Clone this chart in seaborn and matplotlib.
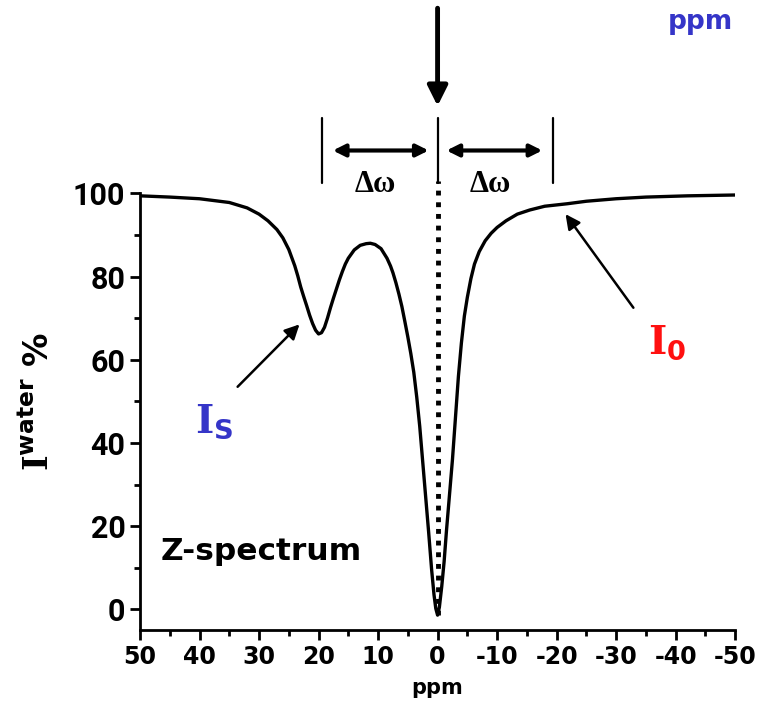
import numpy as np
import pandas as pd
import matplotlib
matplotlib.use("Agg")
import matplotlib.pyplot as plt
import seaborn as sns

# Z-spectrum values (ppm vs water signal %)
ppm = [50, 45, 40, 35, 32, 30, 28.5, 27, 26, 25, 24, 23.5, 23, 22.5, 22, 21.5,
       21, 20.5, 20, 19.5, 19, 18.5, 18, 17.5, 17, 16.5, 16, 15.5, 15, 14, 13,
       12, 11.3, 10.5, 9.5, 8.5, 7.9, 7.5, 7, 6.5, 6, 5.5, 5, 4.5, 4, 3.5, 3,
       2.5, 2, 1.5, 1, 0.6, 0.3, 0, -0.3, -0.7, -1.1, -1.5, -2, -2.5, -3,
       -3.5, -4, -4.5, -5, -5.6, -6.2, -7, -8, -9, -10, -11.5, -13.4, -15.5,
       -18, -21.8, -25, -30, -35, -42, -50]
signal = [99.4, 99.1, 98.7, 97.8, 96.5, 95.0, 93.4, 91.3, 89.3, 86.5, 82.6,
          80.2, 77.5, 75.2, 73.0, 70.7, 68.7, 67.1, 66.2, 66.5, 67.8, 70,
          72.5, 74.8, 77, 79.2, 81.2, 83, 84.4, 86.4, 87.5, 87.9, 88, 87.7,
          86.7, 84.4, 82.5, 80.9, 78.5, 75.8, 72.8, 69.2, 65.5, 61.5, 57, 51,
          44, 35.5, 27, 18.5, 9.5, 3.5, 0.2, -1.4, 0.5, 5.5, 11.5, 19, 27.5,
          36, 46, 56, 64, 70.5, 75, 79.5, 83, 86, 88.6, 90.4, 91.8, 93.4,
          95.0, 96, 96.9, 97.5, 98.1, 98.7, 99.1, 99.4, 99.6]
x_ticks = [50, 40, 30, 20, 10, 0, -10, -20, -30, -40, -50]
y_ticks = [0, 20, 40, 60, 80, 100]
delta_w = 19.4  # offset of the saturation bars, ppm

df = pd.DataFrame({"ppm": ppm, "signal": signal})

sns.set_style("ticks")
plt.rcParams['font.family'] = ['DejaVu Sans']
plt.rcParams['text.color'] = 'black'
plt.rcParams['axes.labelcolor'] = 'black'
plt.rcParams['xtick.color'] = 'black'
plt.rcParams['ytick.color'] = 'black'
plt.rcParams['mathtext.fontset'] = 'custom'
plt.rcParams['mathtext.bf'] = 'DejaVu Serif:bold'
plt.rcParams['mathtext.sf'] = 'DejaVu Sans:bold'
plt.rcParams['mathtext.rm'] = 'DejaVu Sans:bold'

fig = plt.figure(figsize=(7.63, 7.08), dpi=100)
ax = fig.add_axes([0.1835, 0.110, 0.78, 0.6463])

sns.lineplot(data=df, x="ppm", y="signal", sort=False, estimator=None,
             color="black", lw=2.4, ax=ax)

# dotted line at the water resonance
ax.plot([0, 0], [min(signal), 103], color="black", lw=3.5,
        linestyle=(0, (1, 1.4)), solid_capstyle='butt', clip_on=False)

ax.set_xlim(50, -50)
ax.set_ylim(-5, 105)
ax.set_xticks(x_ticks)
ax.set_xticks(np.arange(-45, 50, 10), minor=True)
ax.set_yticks(y_ticks)
ax.set_yticks([10, 30, 50, 70, 90], minor=True)
ax.set_xticklabels([str(t) for t in x_ticks], fontsize=17, fontweight='bold')
ax.set_yticklabels([str(t) for t in y_ticks], fontsize=22, fontweight='bold',
                   family='Roboto')
ax.tick_params(axis='both', which='major', length=7, width=2, direction='out')
ax.tick_params(axis='both', which='minor', length=4, width=2, direction='out')
ax.tick_params(axis='x', pad=4)
for s in ['top', 'right']:
    ax.spines[s].set_visible(False)
for s in ['left', 'bottom']:
    ax.spines[s].set_linewidth(2)
    ax.spines[s].set_color('black')
ax.spines['left'].set_bounds(-5, 100)

ax.set_xlabel("ppm", fontsize=15, fontweight='bold', labelpad=6)
ax.set_ylabel(r"$\mathbf{I}^{\mathsf{water}}$ %", fontsize=24,
              fontweight='bold', labelpad=12)

# saturation markers and delta omega
for xb in [delta_w, 0, -delta_w]:
    ax.plot([xb, xb], [102.6, 118], color="black", lw=1.6, clip_on=False)
for x0, x1 in [(delta_w - 1.8, 1.5), (-1.5, -delta_w + 1.8)]:
    ax.annotate("", xy=(x1, 110.3), xytext=(x0, 110.3),
                arrowprops=dict(arrowstyle='<|-|>', lw=3, color='black',
                                mutation_scale=18, shrinkA=0, shrinkB=0),
                annotation_clip=False)
for xc in [10.4, -8.9]:
    ax.text(xc, 102.2, "Δω", ha='center', va='center', fontsize=22,
            family='Liberation Serif', fontweight='bold', clip_on=False)

# irradiation arrow
ax.annotate("", xy=(0, 121), xytext=(0, 144.5),
            arrowprops=dict(arrowstyle='-|>', lw=3.5, color='black',
                            mutation_scale=30, shrinkA=0, shrinkB=0),
            annotation_clip=False)

ax.text(0.942, 1.329, "ppm", transform=ax.transAxes, color='#3535c8',
        fontsize=19, fontweight='bold', ha='center', va='center')

# labels with arrows
ax.annotate("", xy=(23.2, 68.5), xytext=(33.6, 53.5),
            arrowprops=dict(arrowstyle='-|>', lw=1.8, color='black',
                            mutation_scale=22, shrinkA=0, shrinkB=0))
ax.text(37.5, 45, r"$\mathbf{I}_{\mathsf{S}}$", color='#3535c8', fontsize=28,
        ha='center', va='center')
ax.annotate("", xy=(-21.5, 95.0), xytext=(-32.9, 72.5),
            arrowprops=dict(arrowstyle='-|>', lw=1.8, color='black',
                            mutation_scale=22, shrinkA=0, shrinkB=0))
ax.text(-38.5, 64, r"$\mathbf{I}_{\mathsf{0}}$", color='#ff1010', fontsize=28,
        ha='center', va='center')

ax.text(46.5, 14, "Z-spectrum", fontsize=22.5, fontweight='bold',
        ha='left', va='center')

fig.savefig("out.png", dpi=100)
